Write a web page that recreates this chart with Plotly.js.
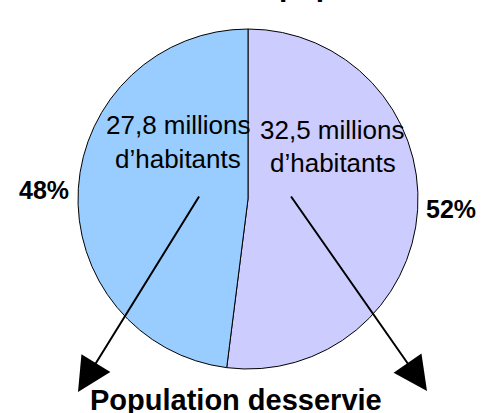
<!DOCTYPE html>
<html>
<head>
<meta charset="utf-8">
<script src="https://cdn.plot.ly/plotly-3.0.1.min.js"></script>
<style>html,body{margin:0;padding:0;background:#fff;}#chart{width:482px;height:413px;}</style>
</head>
<body>
<div id="chart"></div>
<script>
// Data
const categories = ["Population desservie", "Population non desservie"];
const shares = [52, 48];            // percent, clockwise from 12 o'clock
const shareLabels = ["52%", "48%"];
const millionsLabels = ["32,5 millions", "27,8 millions"];
const habitantsLabel = "d’habitants";
const sliceColors = ["#CCCCFF", "#99CCFF"];
const bottomLabel = "Population desservie";
const titleText = "population";

const W = 482, H = 413;
const px = x => x / W;
const py = y => 1 - y / H;
const FONT = "Liberation Sans, Arial, sans-serif";

const trace = {
  type: "pie",
  labels: categories,
  values: shares,
  sort: false,
  direction: "clockwise",
  rotation: 0,
  textinfo: "none",
  hoverinfo: "none",
  marker: { colors: sliceColors, line: { color: "#000000", width: 1 } },
  domain: { x: [px(78), px(418)], y: [py(369), py(29)] },
  showlegend: false
};

function txt(t, x, y, size, bold, xanchor) {
  return {
    xref: "paper", yref: "paper", x: px(x), y: py(y),
    text: bold ? "<b>" + t + "</b>" : t,
    showarrow: false, xanchor: xanchor || "center", yanchor: "middle",
    font: { family: FONT, size: size, color: "#000000" }
  };
}
function arrow(tipX, tipY, tailX, tailY) {
  return {
    xref: "paper", yref: "paper", x: px(tipX), y: py(tipY),
    ax: tailX - tipX, ay: tailY - tipY, axref: "pixel", ayref: "pixel",
    text: "", showarrow: true, arrowhead: 2, arrowsize: 3.4, arrowwidth: 2,
    arrowcolor: "#000000", standoff: 0, startstandoff: 0
  };
}

const annotations = [
  txt(millionsLabels[1], 178, 125, 26, false),
  txt(habitantsLabel, 178, 159, 26, false),
  txt(millionsLabels[0], 332.5, 130, 26, false),
  txt(habitantsLabel, 332.5, 163, 26, false),
  txt(shareLabels[1], 44, 190, 25, true),
  txt(shareLabels[0], 450.5, 209, 25, true),
  txt(bottomLabel, 236, 400, 29, true),
  txt(titleText, 277, -14.5, 30, true, "left"),
  arrow(78, 392, 200, 195),
  arrow(427, 391, 290, 195)
];

const layout = {
  width: W, height: H,
  margin: { l: 0, r: 0, t: 0, b: 0, pad: 0 },
  paper_bgcolor: "#ffffff",
  plot_bgcolor: "#ffffff",
  annotations: annotations,
  showlegend: false
};

Plotly.newPlot("chart", [trace], layout, { displayModeBar: false, staticPlot: true });
</script>
</body>
</html>
